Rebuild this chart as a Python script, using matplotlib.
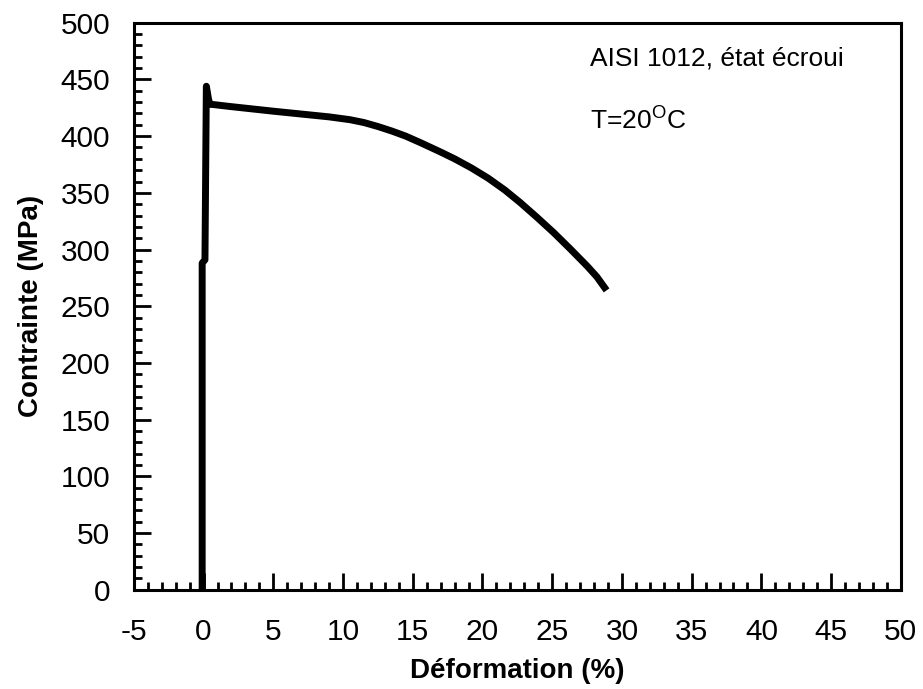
import matplotlib
matplotlib.use("Agg")
import matplotlib.pyplot as plt
from matplotlib.ticker import MultipleLocator

plt.rcParams['font.family'] = ['Liberation Sans', 'DejaVu Sans']
plt.rcParams['mathtext.fontset'] = 'custom'
plt.rcParams['mathtext.rm'] = 'Liberation Sans'
plt.rcParams['axes.unicode_minus'] = False

# Data
strain = [-0.1, -0.1, 0.1, 0.2, 0.35, 0.45, 0.6, 2.0, 3.5, 5.0, 7.0, 9.0,
          10.5, 11.5, 12.5, 13.5, 14.5, 15.6, 17.0, 18.0, 19.2, 20.4, 21.6,
          22.7, 23.9, 25.1, 26.3, 27.5, 28.2, 28.9]
stress = [0, 288, 291, 444, 433, 428, 428, 426, 424, 422, 419.5, 417,
          414.5, 412, 408.5, 404.5, 400, 394, 386, 380, 372, 363, 352.5,
          341.5, 328.5, 315, 300.5, 285.5, 276, 264]

x_ticks = [-5, 0, 5, 10, 15, 20, 25, 30, 35, 40, 45, 50]
y_ticks = [0, 50, 100, 150, 200, 250, 300, 350, 400, 450, 500]

fig = plt.figure(figsize=(9.23, 6.89), dpi=100)
ax = fig.add_axes([0.145, 0.144, 0.831, 0.823])

ax.plot(strain, stress, color='black', lw=5, solid_capstyle='butt',
        solid_joinstyle='round')

ax.set_xlim(-5, 50)
ax.set_ylim(0, 500)
ax.set_xticks(x_ticks)
ax.set_yticks(y_ticks)
ax.xaxis.set_minor_locator(MultipleLocator(1))
ax.yaxis.set_minor_locator(MultipleLocator(10))
ax.tick_params(which='both', direction='in', top=False, right=False,
               width=2, colors='black', labelsize=21.5)
ax.tick_params(which='major', length=12, pad=17)
ax.tick_params(axis='x', which='major', pad=20)
ax.tick_params(which='minor', length=6)
for s in ax.spines.values():
    s.set_linewidth(2.2)

ax.set_xlabel('Déformation (%)', fontsize=20, fontweight='bold', labelpad=9)
ax.set_ylabel('Contrainte (MPa)', fontsize=20, fontweight='bold', labelpad=12)

ax.text(27.7, 462, 'AISI 1012, état écroui', fontsize=19, ha='left',
        va='baseline')
ax.text(27.7, 407, r'T=20$^{\mathregular{O}}$C', fontsize=19, ha='left',
        va='baseline')

fig.savefig('out.png', dpi=100, facecolor='white')
